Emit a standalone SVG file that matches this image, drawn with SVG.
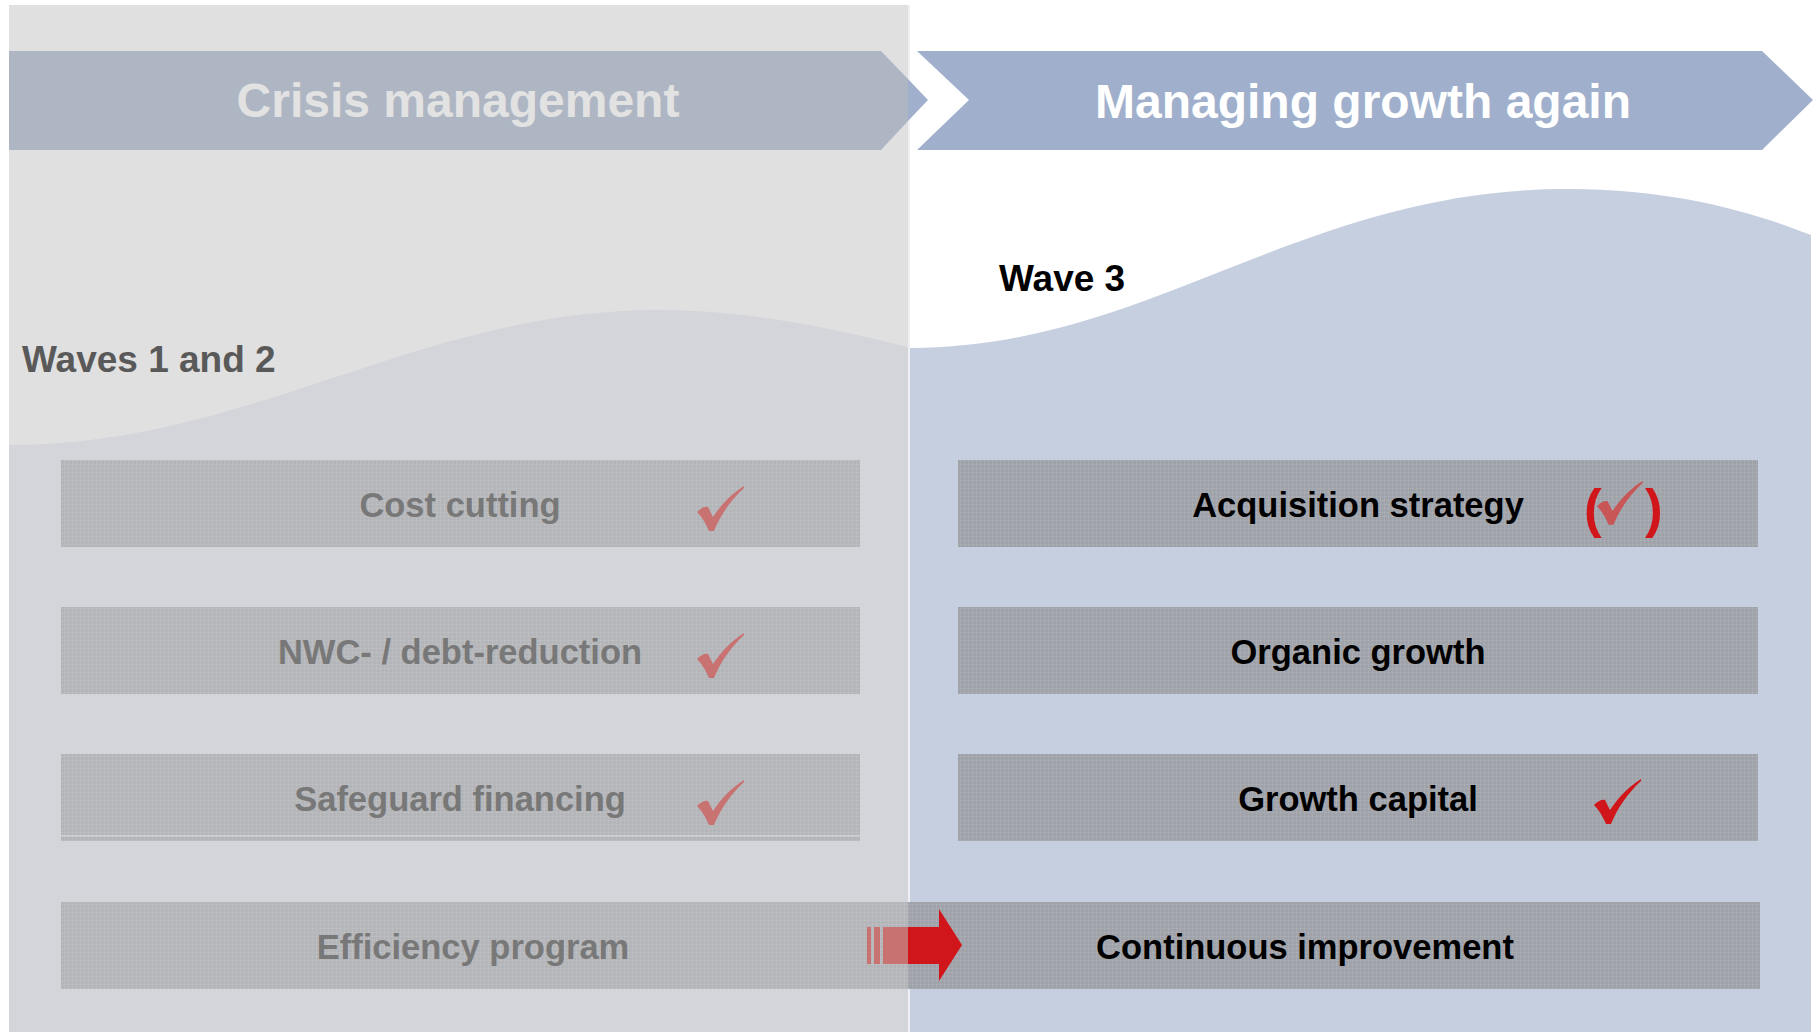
<svg xmlns="http://www.w3.org/2000/svg" xmlns:xlink="http://www.w3.org/1999/xlink" width="1818" height="1032" viewBox="0 0 1818 1032">
<style>
text{font-family:"Liberation Sans",Arial,sans-serif;font-weight:bold}
.title{font-size:48px;text-anchor:middle}
.wave{font-size:37px}
.bt{font-size:34.5px;text-anchor:middle}
.lt{fill:#787878}
.rt{fill:#000}
.lbar{fill:#b4b5b8}
.rbar{fill:#9fa2a9}
.fade{fill:#c87272}
.red{fill:#d0161a}
</style>
<defs>
<path id="check" d="M0,26 C4,22 8,20 11,21 L16,31 C26,16 36,7 47,0 L47,2 C34,14 24,28 17,45 L12,45 C9,38 5,31 0,26 Z"/>
<pattern id="tex" width="4" height="4" patternUnits="userSpaceOnUse">
<rect width="4" height="4" fill="none"/>
<path d="M0,0.5H4M0.5,0V4" stroke="#ffffff" stroke-opacity="0.08" stroke-width="1"/>
</pattern>
</defs>
<rect width="1818" height="1032" fill="#ffffff"/>
<g id="left-panel">
<rect x="9" y="5" width="899" height="1027" fill="#e0e0e0"/>
<path d="M9,445 C250,445 420,310 657,310 C760,310 850,333 908,347 L908,1032 L9,1032 Z" fill="#d4d5da"/>
</g>
<g id="right-panel">
<rect x="908" y="5" width="2" height="1027" fill="#eef0f4"/>
<path d="M910,348 C1150,348 1300,189 1568,189 C1680,189 1760,215 1811,235 L1811,1032 L910,1032 Z" fill="#c5cfe0"/>
</g>
<g id="crisis-management">
<polygon points="9,51 881,51 908,79 908,121 881,150 9,150" fill="#aeb6c4"/>
<polygon points="908,79 928,100 908,121" fill="#a0b0cc"/>
<text class="title" x="458" y="117" fill="#e2e2e2">Crisis management</text>
</g>
<g id="managing-growth">
<polygon points="917,51 1762,51 1813,100 1762,150 917,150 969,100" fill="#a0b0cc"/>
<text class="title" x="1363" y="118" fill="#ffffff">Managing growth again</text>
</g>
<g id="waves-1-2"><text class="wave" x="22" y="372" fill="#595959">Waves 1 and 2</text></g>
<g id="wave-3"><text class="wave" x="999" y="291" fill="#000">Wave 3</text></g>
<g id="cost-cutting">
<rect class="lbar" x="61" y="460" width="799" height="87"/>
<rect x="61" y="460" width="799" height="87" fill="url(#tex)"/>
<text class="bt lt" x="460" y="517">Cost cutting</text>
<use xlink:href="#check" href="#check" class="fade" transform="translate(697,486)"/>
</g>
<g id="nwc-debt-reduction">
<rect class="lbar" x="61" y="607" width="799" height="87"/>
<rect x="61" y="607" width="799" height="87" fill="url(#tex)"/>
<text class="bt lt" x="460" y="664">NWC- / debt-reduction</text>
<use xlink:href="#check" href="#check" class="fade" transform="translate(697,633)"/>
</g>
<g id="safeguard-financing">
<rect class="lbar" x="61" y="754" width="799" height="87"/>
<rect x="61" y="754" width="799" height="87" fill="url(#tex)"/>
<rect x="61" y="835" width="799" height="1.5" fill="#cfd0d3"/>
<text class="bt lt" x="460" y="811">Safeguard financing</text>
<use xlink:href="#check" href="#check" class="fade" transform="translate(697,780)"/>
</g>
<g id="acquisition-strategy">
<rect class="rbar" x="958" y="460" width="800" height="87"/>
<rect x="958" y="460" width="800" height="87" fill="url(#tex)"/>
<text class="bt rt" x="1358" y="517">Acquisition strategy</text>
<text x="1584" y="527" style="font-size:53px" fill="#d0161a">(</text>
<text x="1645" y="527" style="font-size:53px" fill="#d0161a">)</text>
<use xlink:href="#check" href="#check" fill="#c85656" transform="translate(1597,481) scale(0.97)"/>
</g>
<g id="organic-growth">
<rect class="rbar" x="958" y="607" width="800" height="87"/>
<rect x="958" y="607" width="800" height="87" fill="url(#tex)"/>
<text class="bt rt" x="1358" y="664">Organic growth</text>
</g>
<g id="growth-capital">
<rect class="rbar" x="958" y="754" width="800" height="87"/>
<rect x="958" y="754" width="800" height="87" fill="url(#tex)"/>
<text class="bt rt" x="1358" y="811">Growth capital</text>
<use xlink:href="#check" href="#check" class="red" transform="translate(1594,779)"/>
</g>
<g id="efficiency-program">
<rect class="lbar" x="61" y="902" width="847" height="87"/>
<rect x="61" y="902" width="847" height="87" fill="url(#tex)"/>
<text class="bt lt" x="473" y="959">Efficiency program</text>
</g>
<g id="continuous-improvement">
<rect class="rbar" x="908" y="902" width="852" height="87"/>
<rect x="908" y="902" width="852" height="87" fill="url(#tex)"/>
<text class="bt rt" x="1305" y="959">Continuous improvement</text>
</g>
<g id="connectors">
<rect class="fade" x="867" y="927" width="4" height="37"/>
<rect class="fade" x="874" y="927" width="6" height="37"/>
<rect class="fade" x="883" y="927" width="25" height="37"/>
<path class="red" d="M908,927 L939,927 L939,909 L962,945 L939,981 L939,964 L908,964 Z"/>
</g>
</svg>
